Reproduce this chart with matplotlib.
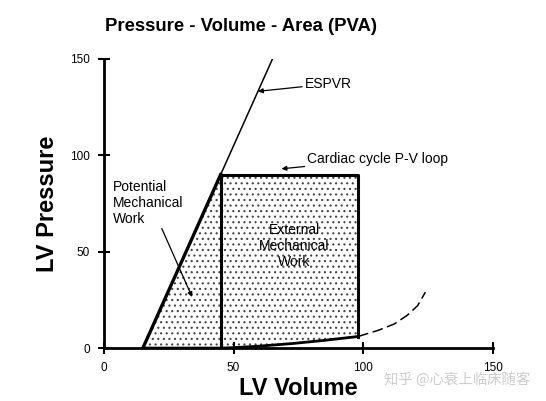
import numpy as np
import matplotlib
matplotlib.use("Agg")
import matplotlib.pyplot as plt
from matplotlib.patches import Polygon

plt.rcParams["font.family"] = ["Liberation Sans", "DejaVu Sans"]
plt.rcParams["hatch.linewidth"] = 0.8

# ── Data ─────────────────────────────────────────────────────────────────
espvr_v = [15, 45, 65]          # end-systolic P-V relation
espvr_p = [0, 90, 150]
loop_v = [45, 45, 98, 98]       # P-V loop: left edge, top, right edge
loop_p = [0, 90, 90, 6]
edpvr_v = [15, 30, 45, 50, 60, 73, 85, 98]    # solid EDPVR part
edpvr_p = [0, 0, 0, 0.2, 1.0, 2.4, 4.0, 6.0]
edpvr_dash_v = [98, 106, 112, 117, 121, 124]  # extrapolated EDPVR
edpvr_dash_p = [6, 9.3, 12.5, 17, 22, 29]

fig = plt.figure(figsize=(5.46, 4.01), dpi=100)
fig.patch.set_facecolor("white")
ax = fig.add_axes([0.1905, 0.132, 0.712, 0.721])

# stippled PVA region
poly_v = [espvr_v[0], espvr_v[1], loop_v[2], loop_v[3]] + edpvr_v[::-1]
poly_p = [espvr_p[0], espvr_p[1], loop_p[2], loop_p[3]] + edpvr_p[::-1]
ax.add_patch(Polygon(np.column_stack([poly_v, poly_p]), closed=True,
                     facecolor="white", edgecolor="#444444", linewidth=0,
                     hatch="...", zorder=1))

ax.plot(espvr_v[:2], espvr_p[:2], color="black", lw=2.4, zorder=3)
ax.plot(espvr_v[1:], espvr_p[1:], color="black", lw=1.1, zorder=3)
ax.plot(loop_v, loop_p, color="black", lw=2.2, zorder=3)
ax.plot(edpvr_v, edpvr_p, color="black", lw=2.0, zorder=3)
ax.plot(edpvr_dash_v, edpvr_dash_p, color="black", lw=1.1,
        linestyle=(0, (7, 3)), zorder=3)

# ── Annotations ──────────────────────────────────────────────────────────
arrow = dict(arrowstyle="-|>", color="black", lw=0.9, mutation_scale=7,
             shrinkA=0, shrinkB=0)
ax.annotate("ESPVR", xy=(59.4, 133.2), xytext=(77.5, 137),
            fontsize=10, va="center", ha="left", arrowprops=arrow)
ax.annotate("Cardiac cycle P-V loop", xy=(68.5, 93), xytext=(78.5, 98),
            fontsize=10, va="center", ha="left", arrowprops=arrow)
ax.text(3.5, 87, "Potential\nMechanical\nWork", fontsize=10,
        va="top", ha="left", linespacing=1.15)
ax.annotate("", xy=(34, 26.5), xytext=(22.3, 62), arrowprops=arrow)
ax.text(73.5, 53, "External\nMechanical\nWork", fontsize=10,
        va="center", ha="center", linespacing=1.15, zorder=4)

# ── Axes styling ─────────────────────────────────────────────────────────
ax.set_xlim(0, 150)
ax.set_ylim(0, 150)
ax.set_xticks([0, 50, 100, 150])
ax.set_yticks([0, 50, 100, 150])
for sp in ("top", "right"):
    ax.spines[sp].set_visible(False)
for sp in ("left", "bottom"):
    ax.spines[sp].set_linewidth(2.0)
ax.tick_params(direction="inout", length=8, width=1.5, labelsize=8.5, pad=6)
ax.set_xlabel("LV Volume", fontsize=17, fontweight="bold", labelpad=2)
ax.set_ylabel("LV Pressure", fontsize=17, fontweight="bold", labelpad=8)
ax.patch.set_alpha(0)

fig.text(0.442, 0.933, "Pressure - Volume - Area (PVA)", fontsize=13.3,
         fontweight="bold", ha="center", va="center")
fig.text(0.972, 0.054, "知乎 @心衰上临床随客", fontsize=10.4, color="#cccccc",
         ha="right", va="center",
         family=["Noto Sans CJK SC", "DejaVu Sans"])

fig.savefig("out.png", dpi=100, facecolor="white")
